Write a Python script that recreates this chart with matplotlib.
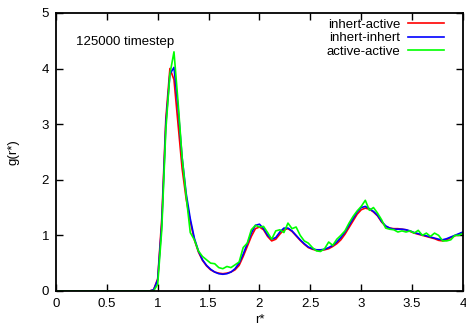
import matplotlib
matplotlib.use("Agg")
import matplotlib.pyplot as plt

plt.rcParams['font.family'] = ['Liberation Sans', 'DejaVu Sans']

# radial distance r* (zero region left out, g is 0 there)
r = [0.0, 0.88,
     0.92, 0.96, 1.00, 1.04, 1.08, 1.12, 1.16, 1.20, 1.24, 1.28, 1.32, 1.36,
     1.40, 1.44, 1.48, 1.52, 1.56, 1.60, 1.64, 1.68, 1.72, 1.76, 1.80, 1.84,
     1.88, 1.92, 1.96, 2.00, 2.04, 2.08, 2.12, 2.16, 2.20, 2.24, 2.28, 2.32,
     2.36, 2.40, 2.44, 2.48, 2.52, 2.56, 2.60, 2.64, 2.68, 2.72, 2.76, 2.80,
     2.84, 2.88, 2.92, 2.96, 3.00, 3.04, 3.08, 3.12, 3.16, 3.20, 3.24, 3.28,
     3.32, 3.36, 3.40, 3.44, 3.48, 3.52, 3.56, 3.60, 3.64, 3.68, 3.72, 3.76,
     3.80, 3.84, 3.88, 3.92, 3.96, 4.00]

g_inhert_active = [0.0, 0.0,
     0.00, 0.02, 0.22, 1.30, 3.10, 4.00, 3.80, 3.00, 2.20, 1.65, 1.25, 0.92,
     0.70, 0.55, 0.45, 0.38, 0.34, 0.32, 0.31, 0.32, 0.34, 0.38, 0.46, 0.62,
     0.80, 0.98, 1.12, 1.15, 1.10, 0.98, 0.90, 0.93, 1.02, 1.10, 1.12, 1.07,
     0.99, 0.91, 0.84, 0.78, 0.75, 0.73, 0.73, 0.74, 0.76, 0.80, 0.85, 0.92,
     1.02, 1.14, 1.26, 1.38, 1.46, 1.49, 1.47, 1.42, 1.35, 1.24, 1.16, 1.13,
     1.12, 1.12, 1.11, 1.10, 1.07, 1.04, 1.02, 1.00, 0.98, 0.96, 0.94, 0.91,
     0.90, 0.92, 0.96, 0.99, 1.02, 1.05]

g_inhert_inhert = [0.0, 0.0,
     0.00, 0.02, 0.20, 1.20, 3.00, 3.90, 4.02, 3.30, 2.40, 1.75, 1.30, 0.95,
     0.72, 0.56, 0.46, 0.39, 0.34, 0.31, 0.30, 0.31, 0.34, 0.40, 0.50, 0.66,
     0.85, 1.04, 1.18, 1.20, 1.12, 1.00, 0.93, 0.96, 1.06, 1.13, 1.13, 1.08,
     1.00, 0.92, 0.85, 0.79, 0.76, 0.74, 0.74, 0.75, 0.78, 0.82, 0.88, 0.96,
     1.06, 1.18, 1.30, 1.42, 1.50, 1.52, 1.48, 1.43, 1.36, 1.25, 1.17, 1.13,
     1.11, 1.11, 1.11, 1.10, 1.08, 1.05, 1.03, 1.01, 0.99, 0.97, 0.95, 0.93,
     0.92, 0.94, 0.97, 1.00, 1.03, 1.06]

g_active_active = [0.0, 0.0,
     0.00, 0.00, 0.12, 1.10, 2.90, 3.90, 4.30, 3.40, 2.40, 1.70, 1.05, 0.92,
     0.72, 0.62, 0.56, 0.50, 0.49, 0.42, 0.40, 0.44, 0.42, 0.47, 0.52, 0.78,
     0.86, 1.10, 1.18, 1.15, 1.16, 1.05, 0.93, 1.08, 1.10, 1.05, 1.22, 1.12,
     1.15, 1.00, 0.90, 0.86, 0.78, 0.72, 0.71, 0.76, 0.88, 0.82, 0.93, 1.00,
     1.08, 1.22, 1.34, 1.44, 1.52, 1.63, 1.45, 1.50, 1.40, 1.28, 1.13, 1.11,
     1.10, 1.06, 1.08, 1.06, 1.08, 1.04, 1.09, 1.00, 1.04, 0.98, 1.04, 1.00,
     0.90, 0.90, 0.92, 1.00, 1.00, 1.04]

xticks = [0, 0.5, 1, 1.5, 2, 2.5, 3, 3.5, 4]
xticklabels = ['0', '0.5', '1', '1.5', '2', '2.5', '3', '3.5', '4']
yticks = [0, 1, 2, 3, 4, 5]

fig = plt.figure(figsize=(4.66, 3.31), dpi=100)
ax = fig.add_axes([0.120, 0.121, 0.8736, 0.840])

ax.plot(r, g_inhert_active, color='#ff0000', lw=1.2, label='inhert-active')
ax.plot(r, g_inhert_inhert, color='#0000ff', lw=1.2, label='inhert-inhert')
ax.plot(r, g_active_active, color='#00ff00', lw=1.2, label='active-active')

ax.set_xlim(0, 4)
ax.set_ylim(0, 5)
ax.set_xticks(xticks)
ax.set_xticklabels(xticklabels)
ax.set_yticks(yticks)
ax.tick_params(direction='in', top=True, right=True, length=5, width=1,
               labelsize=9.5, pad=5)
for s in ax.spines.values():
    s.set_linewidth(1.3)

ax.set_xlabel('r*', fontsize=9.5, labelpad=3)
ax.set_ylabel('g(r*)', fontsize=9.5, labelpad=16)

ax.text(0.2, 4.48, '125000 timestep', fontsize=9.5, ha='left', va='center')

ax.legend(loc='upper right', markerfirst=False, frameon=False, fontsize=9.5,
          handlelength=2.7, handletextpad=0.6, labelspacing=0.1,
          borderaxespad=0.3, bbox_to_anchor=(0.976, 1.013))

fig.savefig('out.png', dpi=100)
